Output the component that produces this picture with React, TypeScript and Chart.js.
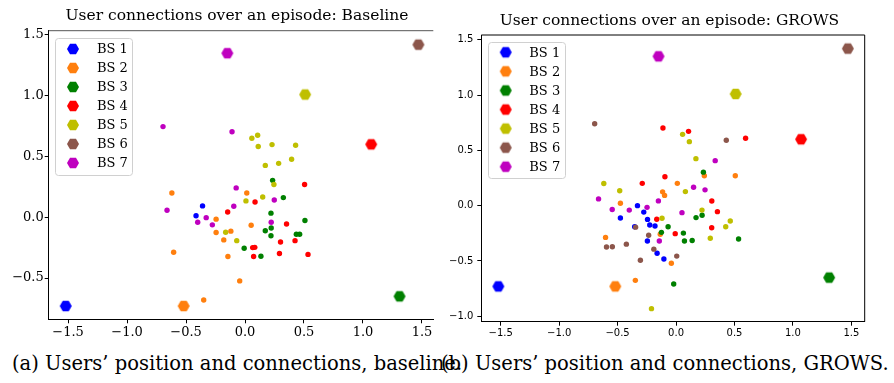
import React, { useEffect, useRef } from 'react';
import { Chart, registerables } from 'chart.js';

Chart.register(...registerables);

type Pt = [number, number];

// Base stations
const bsLabels = ['BS 1', 'BS 2', 'BS 3', 'BS 4', 'BS 5', 'BS 6', 'BS 7'];
const bsColors = ['#0000ff', '#ff7f0e', '#008000', '#ff0000', '#bfbf00', '#8c564b', '#bf00bf'];
const bsX = [-1.52, -0.52, 1.31, 1.07, 0.51, 1.47, -0.15];
const bsY = [-0.73, -0.73, -0.65, 0.6, 1.01, 1.42, 1.35];

// Users attached to each base station, baseline policy
const baseBs1: Pt[] = [[-0.36, 0.094], [-0.415, 0.013]];
const baseBs2: Pt[] = [[-0.62, 0.2], [0.015, 0.2], [-0.245, -0.015], [-0.245, -0.125], [-0.12, -0.114], [-0.18, -0.186], [0.052, -0.065], [-0.605, -0.288], [-0.145, -0.323], [-0.045, -0.523], [-0.35, -0.68]];
const baseBs3: Pt[] = [[0.234, 0.304], [0.325, 0.162], [0.22, 0.034], [0.508, -0.026], [0.222, -0.088], [0.172, -0.11], [0.22, -0.152], [0.435, -0.14], [0.463, -0.14], [-0.007, -0.254], [0.135, -0.32]];
const baseBs4: Pt[] = [[0.505, 0.27], [0.085, 0.126], [-0.147, 0.044], [0.352, -0.055], [0.424, -0.192], [0.301, -0.203], [0.065, -0.249], [0.083, -0.247], [0.073, -0.323], [0.292, -0.298], [0.534, -0.305]];
const baseBs5: Pt[] = [[0.058, 0.65], [0.107, 0.675], [0.112, 0.582], [0.229, 0.598], [0.429, 0.593], [0.395, 0.477], [0.285, 0.444], [0.172, 0.427], [0.245, 0.27], [0.15, 0.167], [0.008, 0.135], [-0.164, -0.123], [-0.07, -0.192]];
const baseBs6: Pt[] = [];
const baseBs7: Pt[] = [[-0.695, 0.746], [-0.11, 0.704], [-0.075, 0.242], [0.248, 0.142], [-0.095, 0.091], [-0.661, 0.058], [-0.329, -0.003], [-0.401, -0.041], [-0.277, -0.062], [0.222, -0.041]];

// Users attached to each base station, GROWS policy
const growsBs1: Pt[] = [[-0.33, 0.0], [-0.276, -0.058], [-0.476, -0.112], [-0.244, -0.124], [-0.225, -0.175], [-0.18, -0.184], [-0.354, -0.19], [-0.245, -0.319], [-0.162, -0.43], [-0.104, -0.482]];
const growsBs2: Pt[] = [[0.242, 0.271], [0.507, 0.271], [0.011, 0.202], [-0.115, 0.125], [-0.098, 0.093], [-0.476, 0.022], [-0.135, -0.259], [-0.603, -0.287], [-0.04, -0.521], [-0.348, -0.675]];
const growsBs3: Pt[] = [[0.234, 0.303], [0.171, -0.108], [0.223, -0.087], [-0.068, -0.19], [-0.125, -0.241], [0.063, -0.248], [0.072, -0.32], [0.138, -0.315], [0.535, -0.302], [-0.02, -0.708]];
const growsBs4: Pt[] = [[-0.112, 0.702], [0.107, 0.672], [0.595, 0.61], [-0.095, 0.262], [-0.289, 0.202], [0.306, 0.042], [0.354, -0.054], [-0.165, -0.123], [-0.007, -0.253], [0.305, -0.2]];
const growsBs5: Pt[] = [[0.056, 0.645], [0.114, 0.579], [0.17, 0.425], [-0.618, 0.2], [-0.482, 0.135], [0.08, 0.127], [0.222, -0.04], [-0.12, -0.114], [0.464, -0.138], [0.425, -0.19], [0.293, -0.295], [-0.21, -0.931]];
const growsBs6: Pt[] = [[-0.696, 0.741], [0.43, 0.591], [-0.346, -0.194], [-0.234, -0.268], [-0.595, -0.373], [-0.545, -0.371], [-0.425, -0.348], [-0.19, -0.393], [-0.305, -0.494], [0.006, -0.456]];
const growsBs7: Pt[] = [[0.335, 0.407], [0.15, 0.167], [0.248, 0.143], [-0.663, 0.061], [-0.151, 0.043], [-0.248, -0.015], [-0.546, -0.035], [-0.4, -0.04], [0.051, -0.063], [-0.143, -0.319]];

// Tick values
const xTicks = [-1.5, -1.0, -0.5, 0.0, 0.5, 1.0, 1.5];
const baseYTicks = [-0.5, 0.0, 0.5, 1.0, 1.5];
const growsYTicks = [-1.0, -0.5, 0.0, 0.5, 1.0, 1.5];

const baseUsers = [baseBs1, baseBs2, baseBs3, baseBs4, baseBs5, baseBs6, baseBs7];
const growsUsers = [growsBs1, growsBs2, growsBs3, growsBs4, growsBs5, growsBs6, growsBs7];

function hexagon(color: string, r: number): HTMLCanvasElement {
  const c = document.createElement('canvas');
  const w = Math.ceil(2 * r + 2);
  c.width = w;
  c.height = w;
  const ctx = c.getContext('2d')!;
  ctx.beginPath();
  for (let k = 0; k < 6; k++) {
    const a = (Math.PI / 3) * k;
    const px = w / 2 + r * Math.cos(a);
    const py = w / 2 + r * Math.sin(a);
    if (k === 0) ctx.moveTo(px, py);
    else ctx.lineTo(px, py);
  }
  ctx.closePath();
  ctx.fillStyle = color;
  ctx.fill();
  return c;
}

const fmt = (v: number) => (v < 0 ? '\u2212' : '') + Math.abs(v).toFixed(1);

interface PanelProps {
  users: Pt[][];
  title: string;
  titleX: number;
  titleY: number;
  area: { left: number; top: number; right: number; bottom: number };
  xRange: [number, number];
  yRange: [number, number];
  yTicks: number[];
  tickFont: { family: string; size: number };
  tickPadY: number;
  tickPadX: number;
  fullFrame: boolean;
  legend: { x: number; y: number; w: number; h: number; markerX: number; textX: number; row0: number; step: number };
}

const W = 447;
const H = 340;

function Panel(p: PanelProps) {
  const ref = useRef<HTMLCanvasElement | null>(null);

  useEffect(() => {
    const canvas = ref.current!;
    const bigHex = bsColors.map((c) => hexagon(c, 6));
    const legendHex = bsColors.map((c) => hexagon(c, 6));

    const datasets: any[] = [];
    bsLabels.forEach((label, i) => {
      datasets.push({
        label: label + ' users',
        data: p.users[i].map(([x, y]) => ({ x, y })),
        backgroundColor: bsColors[i],
        borderColor: bsColors[i],
        borderWidth: 0,
        pointRadius: 2.7,
        order: 20 - i,
      });
      datasets.push({
        label,
        data: [{ x: bsX[i], y: bsY[i] }],
        pointStyle: bigHex[i],
        pointRadius: 6,
        order: 10 - i,
      });
    });

    const overlay = {
      id: 'overlay',
      afterDraw(chart: any) {
        const ctx = chart.ctx as CanvasRenderingContext2D;
        const a = chart.chartArea;
        ctx.save();
        // remaining spines
        ctx.lineWidth = 1;
        ctx.strokeStyle = p.fullFrame ? '#000' : '#555';
        ctx.beginPath();
        ctx.moveTo(a.left, a.top);
        ctx.lineTo(a.right, a.top);
        ctx.stroke();
        if (p.fullFrame) {
          ctx.strokeStyle = '#000';
          ctx.beginPath();
          ctx.moveTo(a.right, a.top);
          ctx.lineTo(a.right, a.bottom);
          ctx.stroke();
        }
        // title
        ctx.fillStyle = '#000';
        ctx.font = '15.5px "DejaVu Serif"';
        ctx.textAlign = 'center';
        ctx.textBaseline = 'alphabetic';
        ctx.fillText(p.title, p.titleX, p.titleY);
        // legend
        const L = p.legend;
        ctx.beginPath();
        if ((ctx as any).roundRect) (ctx as any).roundRect(L.x + 0.5, L.y + 0.5, L.w, L.h, 3);
        else ctx.rect(L.x + 0.5, L.y + 0.5, L.w, L.h);
        ctx.fillStyle = 'rgba(255,255,255,0.8)';
        ctx.fill();
        ctx.strokeStyle = '#d0d0d0';
        ctx.stroke();
        ctx.font = '13px "DejaVu Serif"';
        ctx.textAlign = 'left';
        ctx.textBaseline = 'middle';
        ctx.fillStyle = '#000';
        bsLabels.forEach((label, i) => {
          const ry = L.row0 + L.step * i;
          const img = legendHex[i];
          ctx.drawImage(img, L.markerX - img.width / 2, ry - img.height / 2);
          ctx.fillText(label, L.textX, ry + 1);
        });
        ctx.restore();
      },
    };

    const gridCfg = {
      display: true,
      drawOnChartArea: false,
      drawTicks: true,
      tickLength: 4,
      color: '#000',
      lineWidth: 1,
    };

    const chart = new Chart(canvas, {
      type: 'scatter',
      data: { datasets },
      options: {
        animation: false,
        responsive: false,
        maintainAspectRatio: false,
        events: [],
        layout: {
          padding: { left: 0, top: p.area.top, right: W - p.area.right, bottom: 0 },
        },
        plugins: {
          legend: { display: false },
          title: { display: false },
          tooltip: { enabled: false },
        },
        scales: {
          x: {
            type: 'linear',
            min: p.xRange[0],
            max: p.xRange[1],
            afterBuildTicks: (s: any) => {
              s.ticks = xTicks.map((v) => ({ value: v }));
            },
            afterFit: (s: any) => {
              s.height = H - p.area.bottom;
            },
            ticks: {
              callback: (v: any) => fmt(Number(v)),
              font: p.tickFont,
              color: '#000',
              padding: p.tickPadX,
              maxRotation: 0,
              autoSkip: false,
            },
            grid: gridCfg,
            border: { display: true, color: '#000', width: 1 },
          },
          y: {
            type: 'linear',
            min: p.yRange[0],
            max: p.yRange[1],
            afterBuildTicks: (s: any) => {
              s.ticks = p.yTicks.map((v) => ({ value: v }));
            },
            afterFit: (s: any) => {
              s.width = p.area.left;
            },
            ticks: {
              callback: (v: any) => fmt(Number(v)),
              font: p.tickFont,
              color: '#000',
              padding: p.tickPadY,
              autoSkip: false,
            },
            grid: gridCfg,
            border: { display: true, color: '#000', width: 1 },
          },
        },
      } as any,
      plugins: [overlay],
    });
    return () => chart.destroy();
  }, []);

  return <canvas ref={ref} width={W} height={H} style={{ width: W, height: H, display: 'block' }} />;
}

const captionStyle: React.CSSProperties = {
  position: 'absolute',
  top: 354,
  fontFamily: '"DejaVu Serif"',
  fontSize: 19.5,
  lineHeight: 1,
  whiteSpace: 'nowrap',
  color: '#000',
};

export default function App() {
  return (
    <div style={{ position: 'absolute', left: 0, top: 0, width: 894, height: 383, background: '#fff', overflow: 'hidden' }}>
      <div style={{ position: 'absolute', left: 0, top: 0 }}>
        <Panel
          users={baseUsers}
          title="User connections over an episode: Baseline"
          titleX={237}
          titleY={19.5}
          area={{ left: 48.7, top: 30.7, right: 433.3, bottom: 319.3 }}
          xRange={[-1.664, 1.596]}
          yRange={[-0.839, 1.535]}
          yTicks={baseYTicks}
          tickFont={{ family: 'DejaVu Serif', size: 13 }}
          tickPadY={1}
          tickPadX={2}
          fullFrame={false}
          legend={{ x: 55, y: 38, w: 77, h: 137, markerX: 73, textX: 97, row0: 49, step: 19 }}
        />
      </div>
      <div style={{ position: 'absolute', left: 447, top: 0 }}>
        <Panel
          users={growsUsers}
          title="User connections over an episode: GROWS"
          titleX={222.5}
          titleY={25}
          area={{ left: 34.3, top: 35, right: 417.7, bottom: 321.7 }}
          xRange={[-1.666, 1.614]}
          yRange={[-1.049, 1.543]}
          yTicks={growsYTicks}
          tickFont={{ family: 'DejaVu Sans', size: 10 }}
          tickPadY={4}
          tickPadX={2}
          fullFrame={true}
          legend={{ x: 41, y: 42, w: 77, h: 136, markerX: 58.7, textX: 82.3, row0: 52.3, step: 19.07 }}
        />
      </div>
      <div style={{ ...captionStyle, left: 12 }}>(a) Users’ position and connections, baseline.</div>
      <div style={{ ...captionStyle, left: 441 }}>(b) Users’ position and connections, GROWS.</div>
    </div>
  );
}
